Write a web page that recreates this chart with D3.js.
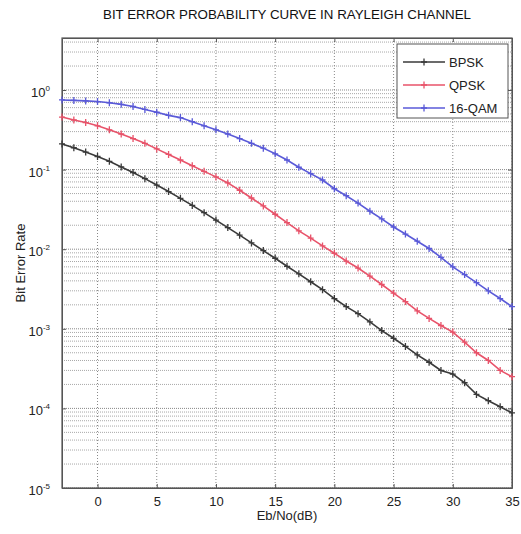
<!DOCTYPE html>
<html lang="en">
<head>
<meta charset="utf-8">
<title>Bit Error Probability Curve in Rayleigh Channel</title>
<script src="https://d3js.org/d3.v7.min.js"></script>
<style>
body { margin: 0; background: #fff; font-family: "Liberation Sans", Arial, sans-serif; }
.axis text { font-size: 13px; fill: #222; font-family: "Liberation Sans", Arial, sans-serif; }
.axis path, .axis line { stroke: #555; }
</style>
</head>
<body>
<script>
// Eb/No values (dB), one marker per dB
var ebno = [-3, -2, -1, 0, 1, 2, 3, 4, 5, 6, 7, 8, 9, 10, 11, 12, 13, 14, 15, 16,
            17, 18, 19, 20, 21, 22, 23, 24, 25, 26, 27, 28, 29, 30, 31, 32, 33, 34, 35];

// bit error rates
var bpsk = [0.21, 0.188, 0.166, 0.146, 0.127, 0.108, 0.092, 0.077, 0.064, 0.053,
            0.0435, 0.0355, 0.0288, 0.0232, 0.0187, 0.015, 0.012, 0.0096, 0.0077, 0.0061,
            0.0049, 0.0039, 0.0031, 0.0024, 0.0019, 0.00155, 0.00122, 0.00095, 0.00076, 0.0006,
            0.00047, 0.00038, 0.0003, 0.00027, 0.00021, 0.00015, 0.000125, 0.000105, 0.000088];
var qpsk = [0.457, 0.42, 0.39, 0.355, 0.316, 0.28, 0.245, 0.214, 0.182, 0.155,
            0.132, 0.112, 0.095, 0.081, 0.068, 0.055, 0.044, 0.035, 0.0275, 0.0216,
            0.017, 0.0138, 0.011, 0.0089, 0.0071, 0.0058, 0.0046, 0.0036, 0.0028, 0.0022,
            0.00168, 0.00135, 0.0011, 0.00091, 0.00068, 0.0005, 0.0004, 0.0003, 0.00025];
var qam16 = [0.75, 0.74, 0.73, 0.716, 0.69, 0.66, 0.62, 0.57, 0.525, 0.48,
             0.45, 0.40, 0.355, 0.316, 0.28, 0.245, 0.214, 0.186, 0.158, 0.132,
             0.107, 0.089, 0.074, 0.0575, 0.047, 0.038, 0.030, 0.024, 0.019, 0.0155,
             0.0126, 0.0102, 0.0079, 0.006, 0.0048, 0.0038, 0.003, 0.0024, 0.0019];

var seriesNames = ["BPSK", "QPSK", "16-QAM"];
var seriesColors = ["#3a3a3a", "#e8536a", "#5a5ad8"];
var xTicks = [0, 5, 10, 15, 20, 25, 30, 35];
var yDecades = [-5, -4, -3, -2, -1, 0];

var width = 521, height = 534;
var plotLeft = 62, plotRight = 512, plotTop = 38, plotBottom = 488;

var svg = d3.select("body").append("svg")
    .attr("width", width)
    .attr("height", height);

var x = d3.scaleLinear().domain([-3, 35]).range([plotLeft, plotRight]);
var y = d3.scaleLog().domain([1e-5, 4.5]).range([plotBottom, plotTop]);

// grid: dotted lines at every decade and at the 2..9 minor steps
var grid = svg.append("g");
var hLines = [];
yDecades.forEach(function(d) {
    for (var m = 1; m <= 9; m++) {
        var v = m * Math.pow(10, d);
        if (v <= 4.5) hLines.push({v: v, major: m == 1});
    }
});
grid.selectAll(".hgrid")
    .data(hLines)
    .enter().append("line")
    .attr("x1", plotLeft).attr("x2", plotRight)
    .attr("y1", function(d) { return y(d.v); })
    .attr("y2", function(d) { return y(d.v); })
    .attr("stroke", function(d) { return d.major ? "#888" : "#a8a8a8"; })
    .attr("stroke-width", 1)
    .attr("stroke-dasharray", "1,1");
grid.selectAll(".vgrid")
    .data(xTicks)
    .enter().append("line")
    .attr("x1", function(d) { return x(d); })
    .attr("x2", function(d) { return x(d); })
    .attr("y1", plotTop).attr("y2", plotBottom)
    .attr("stroke", "#888")
    .attr("stroke-dasharray", "1,2");

// axes
svg.append("g")
    .attr("class", "axis")
    .attr("transform", "translate(0," + plotBottom + ")")
    .call(d3.axisBottom(x).tickValues(xTicks).tickSizeInner(-4).tickSizeOuter(0).tickPadding(9));
svg.append("g")
    .attr("class", "axis")
    .attr("transform", "translate(0," + plotTop + ")")
    .call(d3.axisTop(x).tickValues(xTicks).tickSizeInner(-4).tickSizeOuter(0).tickFormat(""));

var decadeValues = yDecades.map(function(d) { return Math.pow(10, d); });
var yAxis = svg.append("g")
    .attr("class", "axis")
    .attr("transform", "translate(" + plotLeft + ",0)")
    .call(d3.axisLeft(y).tickValues(decadeValues)
        .tickSizeInner(-4).tickSizeOuter(0).tickPadding(12).tickFormat(""));
yAxis.selectAll(".tick text")
    .attr("dy", "0.5em")
    .each(function(d) {
        var t = d3.select(this);
        t.append("tspan").text("10");
        t.append("tspan").attr("dy", "-6").style("font-size", "8px")
            .text(Math.round(Math.log10(d)));
    });
svg.append("g")
    .attr("class", "axis")
    .attr("transform", "translate(" + plotRight + ",0)")
    .call(d3.axisRight(y).tickValues(decadeValues)
        .tickSizeInner(-4).tickSizeOuter(0).tickFormat(""));

// frame
svg.append("rect")
    .attr("x", plotLeft).attr("y", plotTop)
    .attr("width", plotRight - plotLeft).attr("height", plotBottom - plotTop)
    .attr("fill", "none").attr("stroke", "#555").attr("stroke-width", 1.2);

// curves with '+' markers
var allSeries = [bpsk, qpsk, qam16];
var line = d3.line()
    .x(function(d, i) { return x(ebno[i]); })
    .y(function(d) { return y(d); });

allSeries.forEach(function(s, k) {
    var g = svg.append("g");
    g.append("path")
        .datum(s)
        .attr("d", line)
        .attr("fill", "none")
        .attr("stroke", seriesColors[k])
        .attr("stroke-width", 1.6);
    g.selectAll(".mk")
        .data(s)
        .enter().append("path")
        .attr("transform", function(d, i) { return "translate(" + x(ebno[i]) + "," + y(d) + ")"; })
        .attr("d", "M-3,0H3M0,-3.5V3.5")
        .attr("stroke", seriesColors[k])
        .attr("stroke-width", 1.3)
        .attr("fill", "none");
});

// legend
var legend = svg.append("g");
legend.append("rect")
    .attr("x", 397).attr("y", 44)
    .attr("width", 111).attr("height", 74)
    .attr("fill", "#fff").attr("stroke", "#555").attr("stroke-width", 1);
seriesNames.forEach(function(name, k) {
    var ly = 62 + k * 23;
    legend.append("line")
        .attr("x1", 403).attr("x2", 445)
        .attr("y1", ly).attr("y2", ly)
        .attr("stroke", seriesColors[k]).attr("stroke-width", 1.4);
    legend.append("path")
        .attr("transform", "translate(424," + ly + ")")
        .attr("d", "M-3,0H3M0,-3.5V3.5")
        .attr("stroke", seriesColors[k]).attr("stroke-width", 1.3);
    legend.append("text")
        .attr("x", 449).attr("y", ly + 5)
        .style("font-size", "13px").style("fill", "#222")
        .text(name);
});

// titles
svg.append("text")
    .attr("x", 287).attr("y", 19)
    .attr("text-anchor", "middle")
    .attr("textLength", 368)
    .attr("lengthAdjust", "spacingAndGlyphs")
    .style("font-size", "13px").style("fill", "#111")
    .text("BIT ERROR PROBABILITY CURVE IN RAYLEIGH CHANNEL");

svg.append("text")
    .attr("x", 287).attr("y", 520)
    .attr("text-anchor", "middle")
    .style("font-size", "13px").style("fill", "#222")
    .text("Eb/No(dB)");

svg.append("text")
    .attr("transform", "translate(25,263) rotate(-90)")
    .attr("text-anchor", "middle")
    .style("font-size", "13px").style("fill", "#222")
    .text("Bit Error Rate");
</script>
</body>
</html>
